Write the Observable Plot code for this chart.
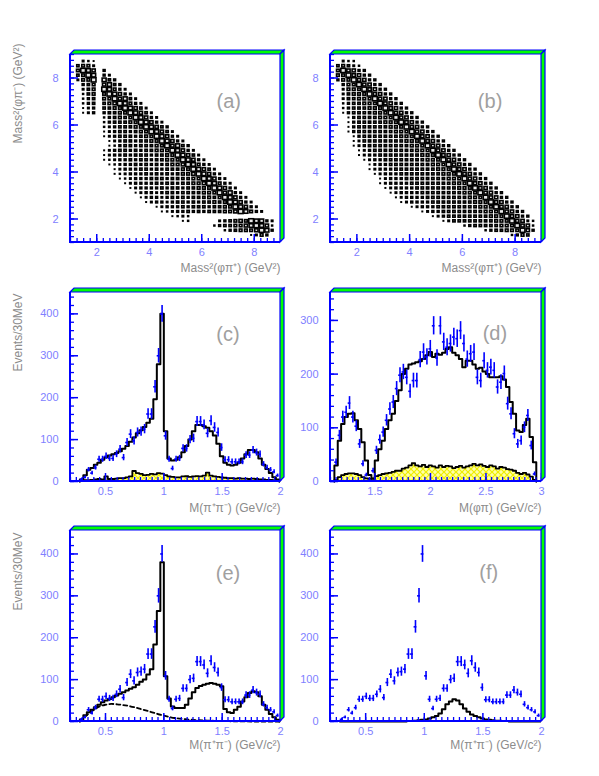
<!DOCTYPE html>
<html><head><meta charset="utf-8">
<script src="https://cdn.jsdelivr.net/npm/d3@7"></script>
<script src="https://cdn.jsdelivr.net/npm/@observablehq/plot@0.6"></script>
<style>
html,body{margin:0;padding:0;background:#fff;}
#root{position:relative;width:599px;height:776px;overflow:hidden;background:#fff;}
#root svg{position:absolute;overflow:visible;max-width:none;}
</style></head><body><div id="root"></div>
<script>
// ---------------- DATA ----------------
// Dalitz plots: rows from top (m^2(phi pi-) = 8.9) to bottom (1.1); columns m^2(phi pi+) 1.1 ... 8.9 ; digit = box size level
const dalitzA = [
"",
"00321",
"056630",
"0698704",
"05698043",
"036690854",
"0045607854",
"0035609864 3",
"0025606987 43",
"0024506697 853",
"0024505679 8643",
"0013405566 98753",
"0013404556 698753",
"0000002456 5698743",
"0000002455 56698743",
"0000002345 556698754",
"0000001345 5456698753",
"0000001345 5545669874 3",
"0000000134 5545566987 43",
"0000000124 5545556697 854",
"0000001345 5454556669 8743",
"0000001344 5455545566 98753",
"0000001234 4545545566 698743",
"0000000123 4454545456 6798643",
"0000000013 4445545455 56698753",
"0000000012 3444545454 566798743",
"0000000001 2344455545 5556698743",
"0000000000 1344445455 4556679864 3",
"0000000000 0134444545 5455666987 43",
"0000000000 0013443455 4555566697 843",
"0000000000 0001344345 4545556569 8743",
"0000000000 0000134434 5545455656 98743",
"0000000000 0000001344 4545554556 698743",
"0000000000 0000000123 4454545556 6798643",
"0000000000 0000000001 2320000000 00000000",
"0000000000 0000000000 0120000034 567698843",
"0000000000 0000000000 0000000245 566789872",
"0000000000 0000000000 0000000002 456667984",
"0000000000 0000000000 0000000000 00001364",
""
];
const dalitzB = [
"",
"00322",
"056532",
"0697744",
"06697744",
"046697744",
"0046697744",
"0036669774 4",
"0035666977 44",
"0035566697 744",
"0024556669 7744",
"0024555666 97744",
"0014555566 697744",
"0001455556 6697744",
"0001455555 66697744",
"0001455555 566697744",
"0001455555 5566697744",
"0000145555 5556669774 4",
"0000135555 5555666977 44",
"0000134555 5555566697 744",
"0000013455 5555556669 7744",
"0000013445 5555555666 97744",
"0000001344 5555555566 697744",
"0000000134 4555555556 6697744",
"0000000134 4455555555 66697744",
"0000000013 4445555555 566697744",
"0000000001 3444555555 5566697744",
"0000000001 3444455555 5556669774 4",
"0000000000 1344445555 5555666977 44",
"0000000000 0134444555 5555566697 744",
"0000000000 0013444455 5555556669 7744",
"0000000000 0001344445 5555555666 97744",
"0000000000 0000013444 5555555566 697744",
"0000000000 0000000134 4555555556 6697744",
"0000000000 0000000001 3455555555 66697744",
"0000000000 0000000000 0135555555 566697732",
"0000000000 0000000000 0000024555 556669772",
"0000000000 0000000000 0000000002 455666974",
"0000000000 0000000000 0000000000 00002465",
""
];
const dalitzLo = 1, dalitzHi = 9, dalitzBin = 0.2;

// M(pi+ pi-) spectra, 30 MeV bins starting at 0.28 GeV
const pipiStart = 0.28, pipiWidth = 0.03;
const pipiData = [5,10,28,20,33,53,53,60,55,55,
  65,77,57,93,113,97,117,119,125,161,
  161,226,300,400,109,53,31,53,55,79,
  79,100,103,143,143,135,115,145,129,117,
  81,52,52,47,47,47,47,63,63,75,
  69,65,41,33,28,23,14];
const fitC = [5,15,28,32,40,45,52,58,62,65,
  68,72,78,85,95,105,115,122,130,140,
  150,196,280,400,120,55,50,52,58,70,
  85,100,120,135,135,132,128,120,110,90,
  60,45,40,38,40,45,55,65,75,75,
  70,55,40,30,20,10,5];
const bgC = [2,3,3,4,5,6,5,12,6,6,
  7,8,8,10,12,25,20,18,15,16,
  18,17,20,19,15,12,11,10,10,12,
  13,11,12,13,12,14,21,14,12,11,
  10,9,8,8,7,8,7,7,6,7,
  6,5,5,4,4,3,2];
const fitE = [5,15,22,28,34,40,46,50,54,58,
  62,66,70,74,78,82,88,95,100,112,
  125,184,264,380,108,55,36,32,32,32,
  40,55,70,80,85,88,90,92,90,88,
  84,30,22,20,28,35,48,58,68,72,
  70,60,40,28,18,10,4];
const dashEx = [0.28,0.32,0.36,0.40,0.45,0.50,0.55,0.60,0.70,0.80,0.90,1.00,1.10,1.20,1.30,1.40,1.50,1.60,1.80,2.00];
const dashEy = [0,10,20,28,36,40,42,41,37,30,22,14,8,5,3,2,1,0.5,0,0];
const fitF = [0,0,0,0,0,0,0,0,0,0,
  0,0,0,0,0,0,0,0,0,1,
  1,2,3,4,5,7,10,13,19,29,
  41,48,53,50,41,31,23,17,13,10,
  7,5,4,3,2,2,1,1,0,0,
  0,0,0,0,0,0,0];

// M(phi pi) spectrum
const phipiStart = 1.135, phipiWidth = 0.0303;
const phipiData = [36,86,120,129,146,120,103,70,33,12,
  3,20,58,78,92,114,135,148,173,198,
  204,194,168,188,188,227,241,232,247,290,
  230,290,260,250,257,269,266,281,257,228,
  238,241,194,188,225,207,213,207,176,185,
  201,145,126,89,70,76,101,123,67,14];
const fitD = [30,76,107,120,126,127,114,98,73,39,
  12,5,39,60,76,98,114,126,150,170,
  200,210,218,220,222,224,228,235,241,232,
  238,236,240,247,250,240,235,228,213,225,
  225,218,210,212,205,200,194,194,194,196,
  190,176,148,126,95,92,105,117,83,36];
const bgD = [3,8,12,14,15,15,14,12,8,6,
  5,6,10,12,14,15,16,18,20,20,
  24,26,30,34,30,28,31,27,30,28,
  26,30,27,29,28,25,27,29,26,28,
  30,33,30,32,29,27,30,28,24,27,
  26,23,22,20,16,14,16,13,9,3];

// tick labels
const dalitzLabels = [2,4,6,8];
const pipiLabels = [0.5,1,1.5,2];
const phipiLabels = [1.5,2,2.5,3];
const countLabelsC = [0,100,200,300,400];
const countLabelsD = [0,100,200,300];

// ---------------- STYLE ----------------
const BLUE = "#0000ff", GREEN = "#00ff00", TICKTXT = "#8080ff", GRAY = "#8c8c8c";
const FONT = "Liberation Sans, Arial, sans-serif";
const boxFrac = [0, .08, .18, .28, .36, .44, .52, .62, .76, .9];

// ---------------- HELPERS ----------------
function dalitzCells(rows) {
  const cells = [];
  rows.forEach((row, r) => {
    const s = row.replace(/ /g, "");
    for (let i = 0; i < s.length; i++) {
      const L = +s[i];
      if (L > 0) cells.push({x: dalitzLo + dalitzBin * (i + 0.5), y: dalitzHi - dalitzBin * (r + 0.5), L});
    }
  });
  return cells;
}
function centers(start, w, n) { return d3.range(n).map(i => start + w * (i + 0.5)); }
function stepPts(cs, vals, w) {
  const pts = [{x: cs[0] - w / 2, y: 0}];
  cs.forEach((c, i) => pts.push({x: c - w / 2, y: vals[i]}));
  const last = cs[cs.length - 1] + w / 2;
  pts.push({x: last, y: vals[vals.length - 1]}, {x: last, y: 0});
  return pts;
}
function pointMarks(cs, vals, hw) {
  const d = cs.map((c, i) => ({c, v: vals[i]}));
  return [
    Plot.ruleX(d, {x: "c", y1: p => Math.max(0, p.v - Math.sqrt(p.v)), y2: p => p.v + Math.sqrt(p.v), stroke: BLUE, strokeWidth: 1.6}),
    Plot.ruleY(d, {y: "v", x1: p => p.c - hw, x2: p => p.c + hw, stroke: BLUE, strokeWidth: 1.6})
  ];
}

const root = document.getElementById("root");

function panel(cfg) {
  const areaW = cfg.width - cfg.ml - cfg.mr, areaH = cfg.height - cfg.mt - cfg.mb;
  const axisMarks = [
    Plot.tickX(cfg.xMinor, {x: d => d, stroke: BLUE, strokeWidth: 1.3, insetTop: areaH - 4}),
    Plot.tickX(cfg.xMajor, {x: d => d, stroke: BLUE, strokeWidth: 1.5, insetTop: areaH - 8}),
    Plot.tickY(cfg.yMinor, {y: d => d, stroke: BLUE, strokeWidth: 1.3, insetRight: areaW - 4}),
    Plot.tickY(cfg.yMajor, {y: d => d, stroke: BLUE, strokeWidth: 1.5, insetRight: areaW - 8}),
    Plot.text(cfg.xMajor, {x: d => d, text: d => String(d), frameAnchor: "bottom", lineAnchor: "middle", dy: 10, fill: TICKTXT, fontSize: 11, fontFamily: FONT}),
    Plot.text(cfg.yMajor, {y: d => d, text: d => String(d), frameAnchor: "left", textAnchor: "end", dx: -12, fill: TICKTXT, fontSize: 11, fontFamily: FONT}),
    Plot.text([cfg.xTitle], {text: d => d, frameAnchor: "bottom-right", textAnchor: "end", lineAnchor: "middle", dy: cfg.xTitleDy, fill: GRAY, fontSize: 12, fontFamily: FONT}),
    Plot.text([cfg.label], {x: cfg.labelPos[0], y: cfg.labelPos[1], text: d => d, fill: "#a0a0a0", fontSize: 20, fontFamily: FONT, letterSpacing: 1})
  ];
  if (cfg.yTitle) axisMarks.push(Plot.text([cfg.yTitle], {text: d => d, frameAnchor: "top-left", rotate: -90, textAnchor: "end", lineAnchor: "middle", dx: -52, dy: cfg.yTitleDy, fill: GRAY, fontSize: 12, fontFamily: FONT}));
  const svg = Plot.plot({
    width: cfg.width, height: cfg.height,
    marginLeft: cfg.ml, marginRight: cfg.mr, marginTop: cfg.mt, marginBottom: cfg.mb,
    x: {domain: cfg.xDomain, axis: null},
    y: {domain: cfg.yDomain, axis: null},
    style: {background: "transparent", fontFamily: FONT, overflow: "visible"},
    marks: [...cfg.marks, ...axisMarks]
  });
  svg.style.left = cfg.left + "px";
  svg.style.top = cfg.top + "px";
  if (cfg.hatch) {
    const defs = d3.select(svg).insert("defs", ":first-child");
    const p = defs.append("pattern").attr("id", cfg.hatch).attr("patternUnits", "userSpaceOnUse").attr("width", 6).attr("height", 6);
    p.append("rect").attr("width", 6).attr("height", 6).attr("fill", "#ffffa8");
    p.append("path").attr("d", "M0,0L6,6M6,0L0,6").attr("stroke", "#eeee00").attr("stroke-width", 1.2);
  }
  // 3D frame
  const xr = svg.scale("x").range, yr = svg.scale("y").range;
  const L = Math.min(...xr), R = Math.max(...xr), T = Math.min(...yr), B = Math.max(...yr), dd = 4;
  const g = d3.select(svg).append("g");
  g.append("polygon").attr("points", [[L, T], [R, T], [R + dd, T - dd], [L + dd, T - dd]].join(" "))
    .attr("fill", GREEN).attr("stroke", BLUE).attr("stroke-width", 1.2).attr("stroke-linejoin", "miter");
  g.append("polygon").attr("points", [[R, T], [R + dd, T - dd], [R + dd, B - dd], [R, B]].join(" "))
    .attr("fill", GREEN).attr("stroke", BLUE).attr("stroke-width", 1.2);
  g.append("path").attr("d", `M${L},${T}V${B}H${R}`).attr("fill", "none").attr("stroke", BLUE).attr("stroke-width", 2);
  root.appendChild(svg);
}

function dalitzMarks(rows) {
  const cells = dalitzCells(rows);
  return [Plot.rect(cells, {
    x1: d => d.x - 0.1 * boxFrac[d.L], x2: d => d.x + 0.1 * boxFrac[d.L],
    y1: d => d.y - 0.1 * boxFrac[d.L], y2: d => d.y + 0.1 * boxFrac[d.L],
    fill: "#e8e8e8", stroke: "black", strokeWidth: 1.6
  })];
}

const LEFT = {left: 0, width: 300, ml: 70, mr: 20};
const RIGHT = {left: 300, width: 299, ml: 30, mr: 58};
const ROW1 = {top: 30, height: 250, mt: 24, mb: 38};
const ROW2 = {top: 280, height: 245, mt: 12, mb: 44};
const ROW3 = {top: 525, height: 251, mt: 5, mb: 55};

const dalitzAxes = {
  xDomain: [dalitzLo, dalitzHi], yDomain: [dalitzLo, dalitzHi],
  xMajor: dalitzLabels, yMajor: dalitzLabels,
  xMinor: d3.range(1, 9.001, 0.25), yMinor: d3.range(1, 9.001, 0.25),
  xTitle: "Mass²(φπ⁺) (GeV²)", xTitleDy: 26
};
const pipiC = centers(pipiStart, pipiWidth, pipiData.length);
const pipiAxes = {
  xDomain: [0.2, 2], xMajor: pipiLabels, xMinor: d3.range(0.2, 2.001, 0.05),
  yMajor: countLabelsC, xTitle: "M(π⁺π⁻) (GeV/c²)"
};

// (a)
panel({...LEFT, ...ROW1, ...dalitzAxes, yTitle: "Mass²(φπ⁻) (GeV²)", yTitleDy: -11,
  label: "(a)", labelPos: [7.03, 7.0], marks: dalitzMarks(dalitzA)});
// (b)
panel({...RIGHT, ...ROW1, ...dalitzAxes, label: "(b)", labelPos: [7.05, 7.0], marks: dalitzMarks(dalitzB)});
// (c)
panel({...LEFT, ...ROW2, ...pipiAxes, yDomain: [0, 451], yMinor: d3.range(0, 451, 20), xTitleDy: 27,
  yTitle: "Events/30MeV", yTitleDy: 1, label: "(c)", labelPos: [1.55, 350], hatch: "hatchC",
  marks: [
    Plot.areaY(stepPts(pipiC, bgC, pipiWidth), {x: "x", y: "y", curve: "step-after", fill: "url(#hatchC)"}),
    Plot.line(stepPts(pipiC, bgC, pipiWidth), {x: "x", y: "y", curve: "step-after", stroke: "black", strokeWidth: 1.8}),
    Plot.line(stepPts(pipiC, fitC, pipiWidth), {x: "x", y: "y", curve: "step-after", stroke: "black", strokeWidth: 2}),
    ...pointMarks(pipiC, pipiData, 0.012)
  ]});
// (d)
const phipiC = centers(phipiStart, phipiWidth, phipiData.length);
panel({...RIGHT, ...ROW2, xDomain: [1.1, 3], yDomain: [0, 352], xMajor: phipiLabels, xMinor: d3.range(1.1, 3.001, 0.05),
  yMajor: countLabelsD, yMinor: d3.range(0, 352, 20), xTitle: "M(φπ) (GeV/c²)", xTitleDy: 27,
  label: "(d)", labelPos: [2.58, 275], hatch: "hatchD",
  marks: [
    Plot.areaY(stepPts(phipiC, bgD, phipiWidth), {x: "x", y: "y", curve: "step-after", fill: "url(#hatchD)"}),
    Plot.line(stepPts(phipiC, bgD, phipiWidth), {x: "x", y: "y", curve: "step-after", stroke: "black", strokeWidth: 1.8}),
    Plot.line(stepPts(phipiC, fitD, phipiWidth), {x: "x", y: "y", curve: "step-after", stroke: "black", strokeWidth: 2}),
    ...pointMarks(phipiC, phipiData, 0.012)
  ]});
// (e)
panel({...LEFT, ...ROW3, ...pipiAxes, yDomain: [0, 456], yMinor: d3.range(0, 456, 20), xTitleDy: 24,
  yTitle: "Events/30MeV", yTitleDy: 2, label: "(e)", labelPos: [1.55, 354],
  marks: [
    Plot.line(dashEx.map((x, i) => ({x, y: dashEy[i]})), {x: "x", y: "y", curve: "monotone-x", stroke: "black", strokeWidth: 1.8, strokeDasharray: "4,3"}),
    Plot.line(stepPts(pipiC, fitE, pipiWidth), {x: "x", y: "y", curve: "step-after", stroke: "black", strokeWidth: 2}),
    ...pointMarks(pipiC, pipiData, 0.012)
  ]});
// (f)
panel({...RIGHT, ...ROW3, ...pipiAxes, yDomain: [0, 456], yMinor: d3.range(0, 456, 20), xTitleDy: 24,
  label: "(f)", labelPos: [1.55, 356],
  marks: [
    Plot.line(stepPts(pipiC, fitF, pipiWidth), {x: "x", y: "y", curve: "step-after", stroke: "black", strokeWidth: 2}),
    ...pointMarks(pipiC, pipiData, 0.012)
  ]});
</script></body></html>
